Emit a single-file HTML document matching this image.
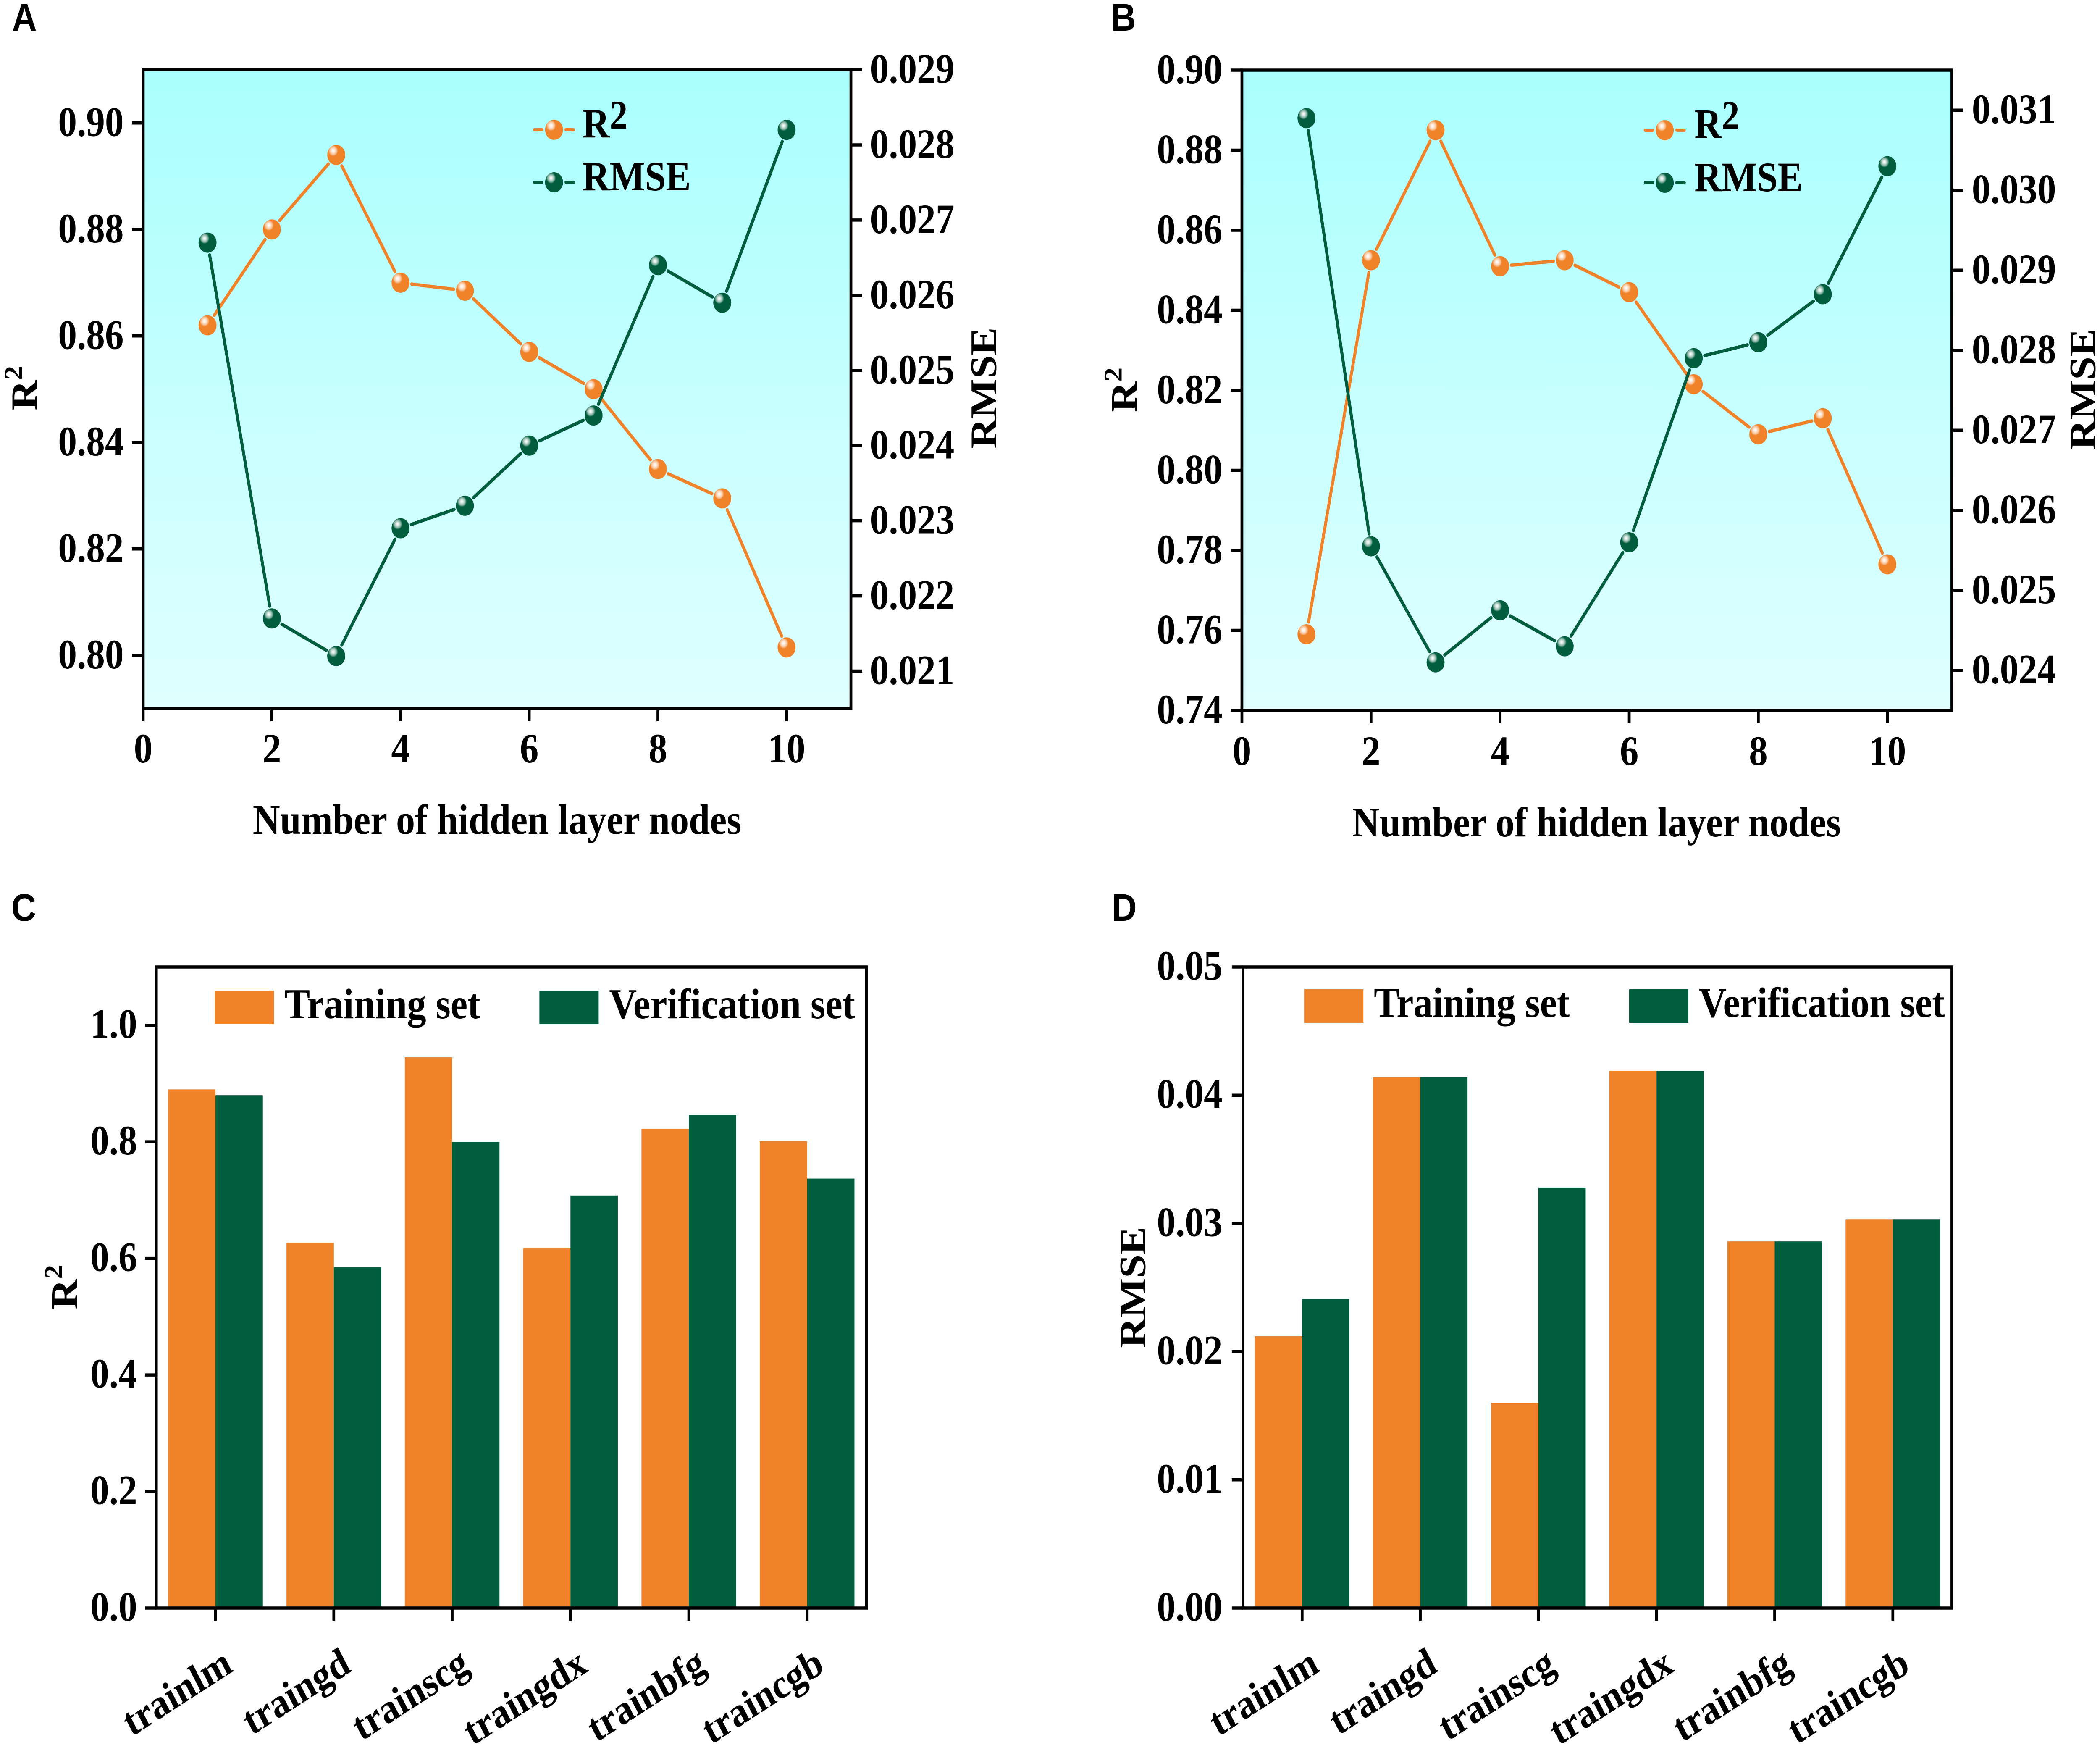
<!DOCTYPE html>
<html lang="en">
<head>
<meta charset="utf-8">
<title>Hidden layer nodes and training algorithm comparison</title>
<style>
html,body{margin:0;padding:0;background:#fff;width:100%;height:100%;overflow:hidden;}
svg{display:block;position:fixed;left:0;top:0;width:100vw;height:100vh;}
text{font-family:"Liberation Serif",serif;font-weight:bold;fill:#000;}
.letter{font-family:"Liberation Sans",sans-serif;font-size:92px;}
</style>
</head>
<body>
<svg id="figure" xmlns="http://www.w3.org/2000/svg" viewBox="0 0 5602 4154" preserveAspectRatio="none">
<defs>
<linearGradient id="bgGrad" x1="0" y1="0" x2="0" y2="1">
<stop offset="0" stop-color="#a9ffff"/>
<stop offset="1" stop-color="#e1ffff"/>
</linearGradient>
<radialGradient id="shine">
<stop offset="0" stop-color="#ffffff"/>
<stop offset="0.3" stop-color="#ffffff" stop-opacity="0.85"/>
<stop offset="0.7" stop-color="#ffffff" stop-opacity="0.5"/>
<stop offset="1" stop-color="#ffffff" stop-opacity="0"/>
</radialGradient>
</defs>
<rect x="0" y="0" width="5602" height="4154" fill="#ffffff"/>
</svg>
<script>
const nodeCounts = [1, 2, 3, 4, 5, 6, 7, 8, 9, 10];
const panelAR2 = [0.862, 0.880, 0.894, 0.870, 0.8685, 0.857, 0.850, 0.835, 0.8295, 0.8015];
const panelARmse = [0.0267, 0.0217, 0.0212, 0.0229, 0.0232, 0.0240, 0.0244, 0.0264, 0.0259, 0.0282];
const panelBR2 = [0.759, 0.8525, 0.885, 0.851, 0.8525, 0.8445, 0.8215, 0.809, 0.813, 0.7765];
const panelBRmse = [0.0309, 0.02555, 0.0241, 0.02475, 0.0243, 0.0256, 0.0279, 0.0281, 0.0287, 0.0303];
const algorithms = ["trainlm", "traingd", "trainscg", "traingdx", "trainbfg", "traincgb"];
const panelCTraining = [0.89, 0.627, 0.945, 0.617, 0.822, 0.801];
const panelCVerification = [0.88, 0.585, 0.80, 0.708, 0.846, 0.737];
const panelDTraining = [0.0212, 0.0414, 0.016, 0.0419, 0.0286, 0.0303];
const panelDVerification = [0.0241, 0.0414, 0.0328, 0.0419, 0.0286, 0.0303];
const nodeTicks = ["0", "2", "4", "6", "8", "10"];
const panelALeftTicks = ["0.80", "0.82", "0.84", "0.86", "0.88", "0.90"];
const panelARightTicks = ["0.021", "0.022", "0.023", "0.024", "0.025", "0.026", "0.027", "0.028", "0.029"];
const panelBLeftTicks = ["0.74", "0.76", "0.78", "0.80", "0.82", "0.84", "0.86", "0.88", "0.90"];
const panelBRightTicks = ["0.024", "0.025", "0.026", "0.027", "0.028", "0.029", "0.030", "0.031"];
const panelCTicks = ["0.0", "0.2", "0.4", "0.6", "0.8", "1.0"];
const panelDTicks = ["0.00", "0.01", "0.02", "0.03", "0.04", "0.05"];

const ORANGE = "#f0832a";
const GREEN = "#005e3f";
const NS = "http://www.w3.org/2000/svg";
const root = document.getElementById("figure");

function make(parent, tag, attrs, content) {
  const el = document.createElementNS(NS, tag);
  for (const k in attrs) el.setAttribute(k, attrs[k]);
  if (content !== undefined) el.textContent = content;
  parent.appendChild(el);
  return el;
}
function linear(d0, d1, r0, r1) {
  return function (v) { return r0 + (v - d0) * (r1 - r0) / (d1 - d0); };
}
function drawLabel(parent, str, x, y, size, anchor) {
  const el = make(parent, "text", {x: x, y: y, "font-size": size, "text-anchor": anchor}, str);
  
  
  return el;
}
function drawR2Title(parent, x, y) {
  const t = make(parent, "text", {transform: "translate(" + x + "," + y + ") rotate(-90)", "font-size": 100});
  
  
  make(t, "tspan", {}, "R");
  make(t, "tspan", {"font-size": 68, dy: -40}, "2");
}
function drawRmseTitle(parent, x, y) {
  const t = make(parent, "text", {transform: "translate(" + x + "," + y + ") rotate(-90)", "font-size": 100}, "RMSE");
  
  
}
function drawLetter(str, x, y) {
  const t = make(root, "text", {x: x, y: y, "class": "letter"}, str);
  
  
}
function drawMarker(parent, cx, cy, color) {
  const m = make(parent, "g", {});
  
  
  make(m, "circle", {cx: cx, cy: cy, r: 24, fill: color});
  make(m, "circle", {cx: cx - 8, cy: cy - 10, r: 13, fill: "url(#shine)"});
}
function drawSeries(parent, name, xs, ys, sx, sy, color) {
  const g = make(parent, "g", {});
  
  
  const gap = 30;
  for (let i = 0; i < xs.length - 1; i++) {
    const x0 = sx(xs[i]), y0 = sy(ys[i]), x1 = sx(xs[i + 1]), y1 = sy(ys[i + 1]);
    const len = Math.hypot(x1 - x0, y1 - y0);
    const ux = (x1 - x0) / len, uy = (y1 - y0) / len;
    if (len <= gap * 2) continue;
    const seg = make(g, "line", {x1: x0 + ux * gap, y1: y0 + uy * gap, x2: x1 - ux * gap, y2: y1 - uy * gap, stroke: color, "stroke-width": 8, "stroke-linecap": "round"});
    
    
  }
  xs.forEach(function (v, i) { drawMarker(g, sx(v), sy(ys[i]), color); });
}
function drawLegendLine(parent, name, cx, cy, color, textX, baseY, isR2) {
  const g = make(parent, "g", {});
  
  
  make(g, "line", {x1: cx - 52, y1: cy, x2: cx - 32, y2: cy, stroke: color, "stroke-width": 8, "stroke-linecap": "round"});
  make(g, "line", {x1: cx + 32, y1: cy, x2: cx + 52, y2: cy, stroke: color, "stroke-width": 8, "stroke-linecap": "round"});
  drawMarker(g, cx, cy, color);
  const t = make(g, "text", {x: textX, y: baseY, "font-size": 100});
  if (isR2) {
    make(t, "tspan", {}, "R");
    make(t, "tspan", {dy: -21, "font-size": 96}, "2");
  } else {
    t.textContent = "RMSE";
  }
}
function drawFrame(parent, b) {
  const f = make(parent, "rect", {x: b.l, y: b.t, width: b.r - b.l, height: b.b - b.t, fill: "none", stroke: "#000", "stroke-width": 7.5});
  
  
}
function tickMark(parent, x1, y1, x2, y2) {
  const t = make(parent, "line", {x1: x1, y1: y1, x2: x2, y2: y2, stroke: "#000", "stroke-width": 7.5});
  
  
}
function drawLinePanel(o) {
  const g = make(root, "g", {});
  
  
  const b = o.box;
  const bg = make(g, "rect", {x: b.l, y: b.t, width: b.r - b.l, height: b.b - b.t, fill: "url(#bgGrad)"});
  
  
  const sx = linear(0, 11, b.l, b.r);
  const syL = linear(o.leftDomain[0], o.leftDomain[1], b.b, b.t);
  const syR = linear(o.rightDomain[0], o.rightDomain[1], b.b, b.t);
  drawSeries(g, "r2", nodeCounts, o.r2, sx, syL, ORANGE);
  drawSeries(g, "rmse", nodeCounts, o.rmse, sx, syR, GREEN);
  drawFrame(g, b);
  nodeTicks.forEach(function (s) {
    const x = sx(parseFloat(s));
    tickMark(g, x, b.b, x, b.b + 30);
    drawLabel(g, s, x, o.xLabelY, 100, "middle");
  });
  o.leftTicks.forEach(function (s) {
    const y = syL(parseFloat(s));
    tickMark(g, b.l - 30, y, b.l, y);
    drawLabel(g, s, o.leftLabelX, y + 31, 100, "end");
  });
  o.rightTicks.forEach(function (s) {
    const y = syR(parseFloat(s));
    tickMark(g, b.r, y, b.r + 30, y);
    drawLabel(g, s, o.rightLabelX, y + 31, 100, "start");
  });
  const xt = make(g, "text", {x: o.xTitle[0], y: o.xTitle[1], "font-size": 101, "text-anchor": "middle"}, "Number of hidden layer nodes");
  
  
  drawR2Title(g, o.r2Title[0], o.r2Title[1]);
  drawRmseTitle(g, o.rmseTitle[0], o.rmseTitle[1]);
  drawLegendLine(g, "r2", o.legend[0], o.legend[1], ORANGE, o.legend[2], o.legend[3], true);
  drawLegendLine(g, "rmse", o.legend[0], o.legend[4], GREEN, o.legend[2], o.legend[5], false);
}
function drawBarPanel(o) {
  const g = make(root, "g", {});
  
  
  const b = o.box;
  const sx = linear(-0.5, algorithms.length - 0.5, b.l, b.r);
  const sy = linear(o.domain[0], o.domain[1], b.b, b.t);
  algorithms.forEach(function (cat, i) {
    const r1 = make(g, "rect", {x: sx(i - 0.4), y: sy(o.training[i]), width: sx(i) - sx(i - 0.4), height: b.b - sy(o.training[i]), fill: ORANGE});
    
    
    const r2 = make(g, "rect", {x: sx(i), y: sy(o.verification[i]), width: sx(i + 0.4) - sx(i), height: b.b - sy(o.verification[i]), fill: GREEN});
    
    
  });
  drawFrame(g, b);
  algorithms.forEach(function (cat, i) {
    const x = sx(i);
    tickMark(g, x, b.b, x, b.b + 30);
    const t = make(g, "text", {transform: "translate(" + (x + 50) + ",3977) rotate(-30)", "font-size": 98, "text-anchor": "end"}, cat);
    
    
  });
  o.ticks.forEach(function (s) {
    const y = sy(parseFloat(s));
    tickMark(g, b.l - 30, y, b.l, y);
    drawLabel(g, s, o.labelX, y + 30, 100, "end");
  });
  const p1 = make(g, "rect", {x: o.legend.p1, y: o.legend.y, width: 158, height: 80, fill: ORANGE});
  
  
  const t1 = make(g, "text", {x: o.legend.p1 + 186, y: o.legend.base, "font-size": 102}, "Training set");
  
  
  const p2 = make(g, "rect", {x: o.legend.p2, y: o.legend.y, width: 158, height: 80, fill: GREEN});
  
  
  const t2 = make(g, "text", {x: o.legend.p2 + 186, y: o.legend.base, "font-size": 102}, "Verification set");
  
  
  o.title();
}

drawLetter("A", 32, 73);
drawLetter("B", 2964, 73);
drawLetter("C", 30, 2192);
drawLetter("D", 2966, 2192);

drawLinePanel({
  name: "panel-a", box: {l: 382, r: 2270, t: 166, b: 1687},
  leftDomain: [0.79, 0.91], rightDomain: [0.0205, 0.029],
  r2: panelAR2, rmse: panelARmse, leftTicks: panelALeftTicks, rightTicks: panelARightTicks,
  xLabelY: 1815, leftLabelX: 330, rightLabelX: 2321,
  xTitle: [1326, 1985], r2Title: [98, 977], rmseTitle: [2657, 1068],
  legend: [1478, 309, 1554, 327, 434, 453]
});
drawLinePanel({
  name: "panel-b", box: {l: 3313, r: 5207, t: 167, b: 1691},
  leftDomain: [0.74, 0.90], rightDomain: [0.0235, 0.0315],
  r2: panelBR2, rmse: panelBRmse, leftTicks: panelBLeftTicks, rightTicks: panelBRightTicks,
  xLabelY: 1821, leftLabelX: 3261, rightLabelX: 5260,
  xTitle: [4259, 1991], r2Title: [3032, 981], rmseTitle: [5589, 1071],
  legend: [4441, 310, 4520, 328, 435, 455]
});
drawBarPanel({
  name: "panel-c", box: {l: 417, r: 2311, t: 2302, b: 3828}, domain: [0, 1.1],
  training: panelCTraining, verification: panelCVerification, ticks: panelCTicks, labelX: 366,
  legend: {p1: 573, p2: 1439, y: 2358, base: 2424},
  title: function () { drawR2Title(root, 205, 3117); }
});
drawBarPanel({
  name: "panel-d", box: {l: 3316, r: 5207, t: 2302, b: 3828}, domain: [0, 0.05],
  training: panelDTraining, verification: panelDVerification, ticks: panelDTicks, labelX: 3261,
  legend: {p1: 3479, p2: 4346, y: 2355, base: 2421},
  title: function () { drawRmseTitle(root, 3055, 3209); }
});
</script>
</body>
</html>
